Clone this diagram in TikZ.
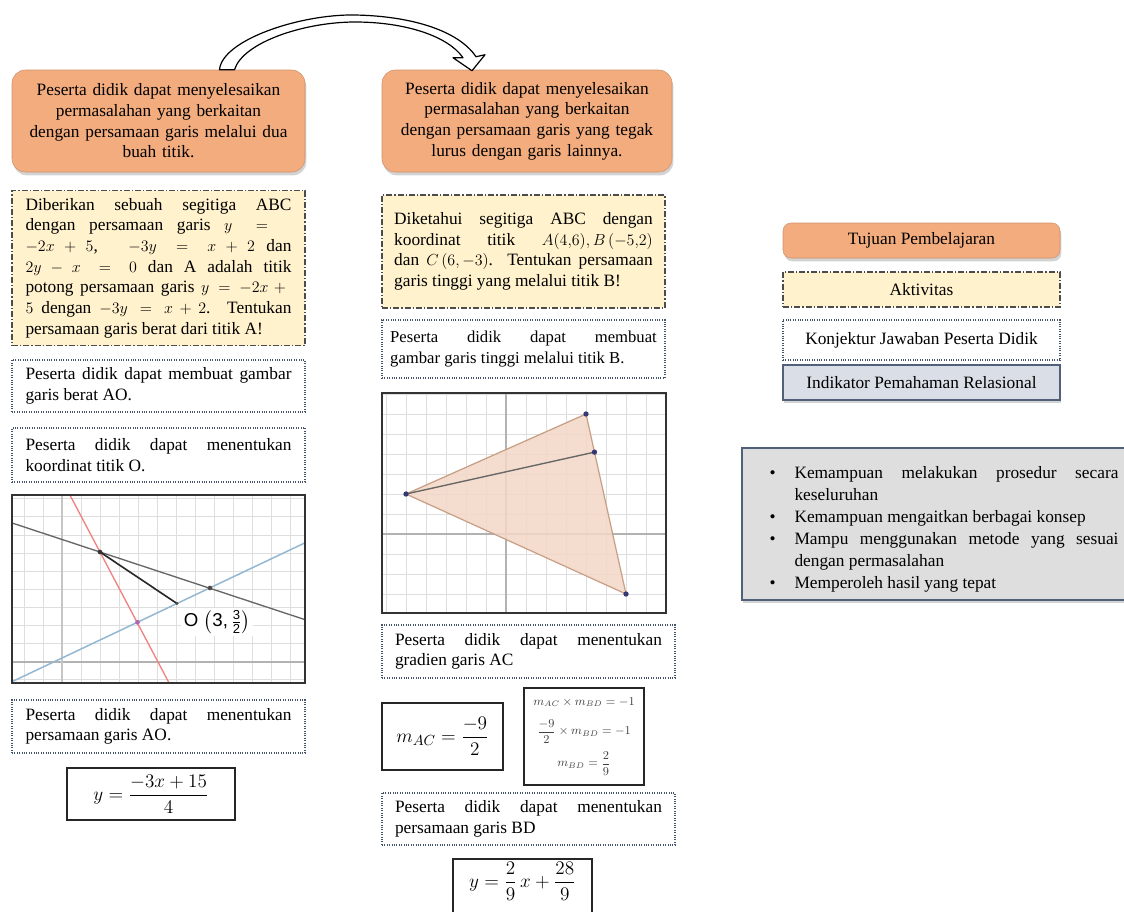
\documentclass[tikz,border=0pt]{standalone}
\usepackage{fontspec}
\usepackage{amsmath}
\setmainfont{Liberation Serif}
\newfontfamily\labelsans{Liberation Sans}
\usetikzlibrary{shadows,calc}
\tolerance=10000
\hbadness=10000
\definecolor{tpfill}{RGB}{243,172,126}
\definecolor{akfill}{RGB}{255,242,204}
\definecolor{kjline}{RGB}{68,84,106}
\definecolor{indfill}{RGB}{218,223,231}
\definecolor{indline}{RGB}{80,96,122}
\definecolor{boxgray}{RGB}{222,222,222}
\definecolor{gridgray}{RGB}{222,222,222}
\definecolor{trifill}{RGB}{243,215,198}
\definecolor{triline}{RGB}{200,158,132}
\definecolor{redline}{RGB}{240,130,130}
\definecolor{blueline}{RGB}{145,183,210}
\definecolor{ptblue}{RGB}{55,55,115}
\newcommand{\butir}[1]{\par\noindent\hangindent=23.25pt\hangafter=1\makebox[23.25pt][l]{\hspace{4.5pt}\textbullet}#1\par}

\begin{document}
\begin{tikzpicture}[x=0.75pt, y=-0.75pt,
    every node/.style={font=\fontsize{13}{15.5}\selectfont, inner sep=0pt},
    tujuan/.style={draw=tpfill!85!black, line width=0.4pt, fill=tpfill, rounded corners=10pt,
      drop shadow={shadow xshift=1pt, shadow yshift=-2.5pt, opacity=0.35}},
    aktiv/.style={draw=black!70, fill=akfill, line width=0.9pt,
      dash pattern=on 4.5pt off 1.5pt on 1pt off 1.5pt},
    konj/.style={draw=kjline, line width=0.8pt, densely dotted, fill=white},
    rumus/.style={draw=black!85, line width=0.9pt, fill=white},
    grafik/.style={draw=black!80, line width=1.5pt},
    indik/.style={draw=indline, line width=1.1pt,
      drop shadow={shadow xshift=1pt, shadow yshift=-2pt, opacity=0.35}},
    titik/.style={circle, fill=ptblue, minimum size=4pt}]
  \useasboundingbox (0,0) rectangle (1124,911);

  \node (TP1) [tujuan, minimum width=219.75pt, minimum height=76.5pt, text width=195pt, align=center]
    at (158.5,121) {Peserta didik dapat menyelesaikan\\ permasalahan yang berkaitan\\ dengan persamaan garis melalui dua\\ buah titik.};
  \node (TP2) [tujuan, minimum width=217.5pt, minimum height=76.5pt, text width=195pt, align=center]
    at (527,121) {Peserta didik dapat menyelesaikan\\ permasalahan yang berkaitan\\ dengan persamaan garis yang tegak\\ lurus dengan garis lainnya.};

  \coordinate (ekor) at ([xshift=51pt]TP1.north);
  \coordinate (ujung) at ([xshift=-41.25pt, yshift=-0.75pt]TP2.north);
  \draw[line width=0.9pt, fill=white, line join=round]
    ($(ekor)+(-7,0)$) .. controls (222,40) and (300,14) .. (355,15)
    .. controls (410,16) and (458,30) .. ($(ujung)+(4,-14)$)
    -- ($(ujung)+(13,-16)$) -- (ujung) -- ($(ujung)+(-19,-13)$) -- ($(ujung)+(-9,-13)$)
    .. controls (448,36) and (405,22) .. (355,22)
    .. controls (305,22) and (243,42) .. ($(ekor)+(8,0)$) -- cycle;

  \node (AK1) [aktiv, minimum width=219.75pt, minimum height=116.25pt, text width=199.5pt, align=justify]
    at (158.5,268) {Diberikan sebuah segitiga ABC\linebreak dengan persamaan garis $y={}$\linebreak
    $-2x+5$, \quad $-3y=x+2$ dan\linebreak $2y-x=0$ dan A adalah titik\linebreak
    potong persamaan garis $y=-2x+{}$\linebreak $5$ dengan $-3y=x+2$. Tentukan\linebreak
    persamaan garis berat dari titik A!};
  \node (KJ1) [konj, minimum width=219.75pt, minimum height=39pt, text width=199.5pt, align=justify]
    at (158.5,386) {Peserta didik dapat membuat gambar\linebreak garis berat AO.};
  \node (KJ2) [konj, minimum width=219.75pt, minimum height=40.5pt, text width=199.5pt, align=justify]
    at (158.5,455) {Peserta didik dapat menentukan\linebreak koordinat titik O.};

  \begin{scope}
    \clip (12,495) rectangle (305,683);
    \fill[white] (12,495) rectangle (305,683);
    \foreach \gx in {5,24,...,305} \draw[gridgray, line width=0.6pt] (\gx,495) -- (\gx,683);
    \foreach \gy in {498.7,516.8,...,690} \draw[gridgray, line width=0.6pt] (12,\gy) -- (305,\gy);
    \draw[gray!60, line width=1pt] (12,662) -- (305,662);
    \draw[gray!45, line width=0.8pt] (62,495) -- (62,683);
    \draw[redline, line width=1pt] (62,480) -- (177,698);
    \draw[black!60, line width=1pt] (0,519) -- (320,624.6);
    \draw[blueline, line width=1.1pt] (0,687.4) -- (320,535.7);
    \coordinate (A1) at (100,552);
    \coordinate (O1) at (177,603.5);
    \draw[black!85, line width=1.2pt] (A1) -- (O1);
    \node[titik, fill=black!80, minimum size=3.5pt] (pA1) at (A1) {};
    \node[titik, fill=black!70, minimum size=3.5pt] (pP1) at (210,588) {};
    \node[titik, fill=violet!60, minimum size=3.5pt] (pQ1) at (137.5,622.3) {};
    \node[titik, fill=black!70, minimum size=2.5pt] (pO1) at (O1) {};
  \end{scope}
  \draw[grafik] (12,495) rectangle (305,683);
  \node (lblO) [font=\labelsans\fontsize{14}{16}\selectfont, fill=white, inner sep=2pt, anchor=west]
    at (181,622) {O $\left(\text{3,}\,\frac{\text{3}}{\text{2}}\right)$};

  \node (KJ3) [konj, minimum width=219.75pt, minimum height=39.75pt, text width=199.5pt, align=justify]
    at (158.5,726.5) {Peserta didik dapat menentukan\linebreak persamaan garis AO.};
  \node (F1) [rumus, minimum width=126pt, minimum height=39pt, font=\fontsize{14}{16}\selectfont]
    at (151,794) {$y=\dfrac{-3x+15}{4}$};

  \node (AK2) [aktiv, minimum width=212.25pt, minimum height=84.75pt, text width=194pt, align=justify]
    at (523.5,251.5) {Diketahui segitiga ABC dengan\linebreak koordinat titik $A(4{,}6), B\,(-5{,}2)$\linebreak
    dan $C\,(6,-3)$. Tentukan persamaan\linebreak garis tinggi yang melalui titik B!};
  \node (KJ4) [konj, minimum width=212.25pt, minimum height=43.5pt, text width=200pt, align=justify,
    font=\fontsize{12.5}{15.5}\selectfont]
    at (523.5,349) {Peserta didik dapat membuat\linebreak gambar garis tinggi melalui titik~B.};

  \begin{scope}
    \clip (382,393) rectangle (666,613);
    \fill[white] (382,393) rectangle (666,613);
    \begin{scope}[shift={(506,534)}, x=15pt, y=15pt]
      \foreach \gx in {-7,...,8} \draw[gridgray, line width=0.6pt] (\gx,-5) -- (\gx,8);
      \foreach \gy in {-4,...,7} \draw[gridgray, line width=0.6pt] (-7,\gy) -- (8,\gy);
      \draw[gray!60, line width=1pt] (-7,0) -- (8,0);
      \draw[gray!60, line width=1pt] (0,-5) -- (0,8);
      \coordinate (A) at (4,6);
      \coordinate (B) at (-5,2);
      \coordinate (C) at (6,-3);
      \coordinate (D) at (4.4235,4.0941);
      \filldraw[fill=trifill, fill opacity=0.85, draw=triline, line width=0.9pt] (A) -- (B) -- (C) -- cycle;
      \draw[black!60, line width=1pt] (B) -- (D);
      \node[titik] (pA) at (A) {};
      \node[titik] (pB) at (B) {};
      \node[titik] (pC) at (C) {};
      \node[titik] (pD) at (D) {};
    \end{scope}
  \end{scope}
  \draw[grafik] (382,393) rectangle (666,613);

  \node (KJ5) [konj, minimum width=219.75pt, minimum height=39.75pt, text width=200.25pt, align=justify]
    at (528.5,651.5) {Peserta didik dapat menentukan\linebreak gradien garis AC};
  \node (FAC) [rumus, minimum width=90.75pt, minimum height=50.25pt, font=\fontsize{15}{18}\selectfont]
    at (442.5,736.5) {$m_{AC}=\dfrac{-9}{2}$};
  \node (FBD) [rumus, minimum width=90pt, minimum height=72.75pt, align=center,
    font=\fontsize{9}{22}\selectfont, text=black!75]
    at (584,736.5) {$m_{AC}\times m_{BD}=-1$\\ $\dfrac{-9}{2}\times m_{BD}=-1$\\[2pt] $m_{BD}=\dfrac{2}{9}$};
  \node (KJ6) [konj, minimum width=219.75pt, minimum height=39pt, text width=200.25pt, align=justify]
    at (528.5,819) {Peserta didik dapat menentukan\linebreak persamaan garis BD};
  \node (F2) [rumus, minimum width=104.25pt, minimum height=54pt, font=\fontsize{14}{16}\selectfont]
    at (522.5,895) {\raisebox{6pt}[0pt][0pt]{$y=\dfrac{2}{9}\,x+\dfrac{28}{9}$}};

  \node (LG1) [tujuan, minimum width=207.75pt, minimum height=26.25pt, rounded corners=6pt]
    at (921.5,240.5) {Tujuan Pembelajaran};
  \node (LG2) [aktiv, minimum width=207.75pt, minimum height=26.25pt] at (921.5,289.5) {Aktivitas};
  \node (LG3) [konj, minimum width=207.75pt, minimum height=30pt] at (921.5,340) {Konjektur Jawaban Peserta Didik};
  \node (LG4) [indik, fill=indfill, minimum width=207.75pt, minimum height=26.25pt]
    at (921.5,382.5) {Indikator Pemahaman Relasional};

  \node (IND) [indik, fill=boxgray, minimum width=298.5pt, minimum height=114pt, text width=266.25pt,
    align=justify, font=\fontsize{13}{16.5}\selectfont] at (941,524) {
    \butir{Kemampuan melakukan prosedur secara\linebreak keseluruhan}
    \butir{Kemampuan mengaitkan berbagai konsep}
    \butir{Mampu menggunakan metode yang sesuai\linebreak dengan permasalahan}
    \butir{Memperoleh hasil yang tepat}};
\end{tikzpicture}
\end{document}
